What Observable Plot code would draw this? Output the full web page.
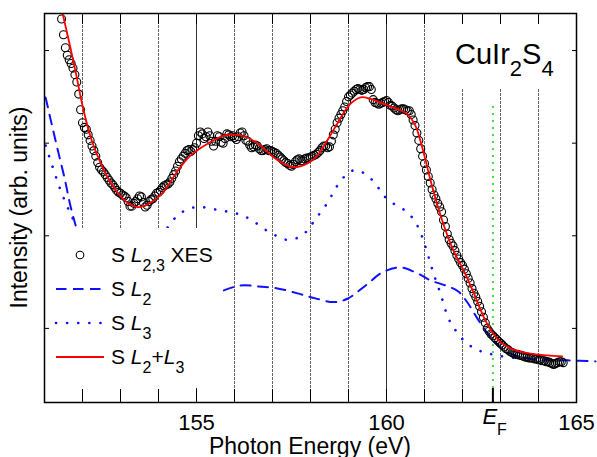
<!DOCTYPE html>
<html><head><meta charset="utf-8">
<script src="https://cdn.jsdelivr.net/npm/d3@7"></script>
<script src="https://cdn.jsdelivr.net/npm/@observablehq/plot@0.6"></script>
<style>
body{margin:0;background:#fff}
svg text{font-family:"Liberation Sans",Arial,Helvetica,sans-serif}
</style>
</head><body><div id="chart"></div>
<script>
// ---- data (photon energy in eV, intensity in arb. units) ----
const xesE = [
151.45,151.50,151.55,151.60,151.65,151.70,151.75,151.80,151.85,151.90,
151.95,152.00,152.05,152.10,152.15,152.20,152.25,152.30,152.35,152.40,
152.45,152.50,152.55,152.60,152.65,152.70,152.75,152.80,152.85,152.90,
152.95,153.00,153.05,153.10,153.15,153.20,153.25,153.30,153.35,153.40,
153.45,153.50,153.55,153.60,153.65,153.70,153.75,153.80,153.85,153.90,
153.95,154.00,154.05,154.10,154.15,154.20,154.25,154.30,154.35,154.40,
154.45,154.50,154.55,154.60,154.65,154.70,154.75,154.80,154.85,154.90,
154.95,155.00,155.05,155.10,155.15,155.20,155.25,155.30,155.35,155.40,
155.45,155.50,155.55,155.60,155.65,155.70,155.75,155.80,155.85,155.90,
155.95,156.00,156.05,156.10,156.15,156.20,156.25,156.30,156.35,156.40,
156.45,156.50,156.55,156.60,156.65,156.70,156.75,156.80,156.85,156.90,
156.95,157.00,157.05,157.10,157.15,157.20,157.25,157.30,157.35,157.40,
157.45,157.50,157.55,157.60,157.65,157.70,157.75,157.80,157.85,157.90,
157.95,158.00,158.05,158.10,158.15,158.20,158.25,158.30,158.35,158.40,
158.45,158.50,158.55,158.60,158.65,158.70,158.75,158.80,158.85,158.90,
158.95,159.00,159.05,159.10,159.15,159.20,159.25,159.30,159.35,159.40,
159.45,159.50,159.55,159.60,159.65,159.70,159.75,159.80,159.85,159.90,
159.95,160.00,160.05,160.10,160.15,160.20,160.25,160.30,160.35,160.40,
160.45,160.50,160.55,160.60,160.65,160.70,160.75,160.80,160.85,160.90,
160.95,161.00,161.05,161.10,161.15,161.20,161.25,161.30,161.35,161.40,
161.45,161.50,161.55,161.60,161.65,161.70,161.75,161.80,161.85,161.90,
161.95,162.00,162.05,162.10,162.15,162.20,162.25,162.30,162.35,162.40,
162.45,162.50,162.55,162.60,162.65,162.70,162.75,162.80,162.85,162.90,
162.95,163.00,163.05,163.10,163.15,163.20,163.25,163.30,163.35,163.40,
163.45,163.50,163.55,163.60,163.65,163.70,163.75,163.80,163.85,163.90,
163.95,164.00,164.05,164.10,164.15,164.20,164.25,164.30,164.35,164.40,
164.45,164.50,164.55,164.60,164.65];
const xesI = [
4.34,4.17,4.03,3.95,3.90,3.86,3.81,3.74,3.66,3.53,
3.36,3.22,3.17,3.15,3.09,3.03,2.97,2.92,2.86,2.79,
2.74,2.71,2.69,2.66,2.63,2.60,2.57,2.55,2.52,2.49,
2.47,2.46,2.44,2.43,2.41,2.37,2.32,2.32,2.35,2.37,
2.40,2.43,2.42,2.36,2.31,2.33,2.37,2.39,2.40,2.43,
2.46,2.47,2.49,2.52,2.54,2.55,2.56,2.58,2.62,2.66,
2.70,2.75,2.80,2.83,2.86,2.89,2.92,2.93,2.91,2.93,
2.95,3.00,3.08,3.12,3.10,3.05,3.07,3.12,3.08,3.02,
2.97,3.02,3.08,3.07,3.01,3.00,3.05,3.10,3.09,3.07,
3.08,3.06,3.04,3.07,3.11,3.12,3.08,3.03,3.02,2.98,
2.95,2.96,2.98,2.97,2.94,2.92,2.92,2.93,2.94,2.92,
2.92,2.91,2.90,2.89,2.87,2.85,2.83,2.81,2.79,2.78,
2.76,2.75,2.77,2.80,2.82,2.83,2.81,2.81,2.83,2.84,
2.84,2.85,2.86,2.87,2.88,2.90,2.92,2.95,2.97,2.97,
2.95,2.96,3.02,3.09,3.15,3.22,3.27,3.31,3.35,3.39,
3.45,3.50,3.52,3.54,3.56,3.58,3.59,3.58,3.57,3.58,
3.60,3.61,3.61,3.58,3.47,3.44,3.43,3.42,3.43,3.44,
3.45,3.46,3.44,3.41,3.40,3.38,3.36,3.35,3.36,3.37,
3.37,3.36,3.35,3.35,3.31,3.25,3.19,3.11,3.03,2.94,
2.86,2.78,2.71,2.64,2.57,2.50,2.44,2.40,2.35,2.31,
2.26,2.17,2.10,2.02,1.96,1.92,1.89,1.84,1.79,1.75,
1.71,1.68,1.64,1.59,1.54,1.49,1.43,1.38,1.34,1.29,
1.24,1.18,1.12,1.06,1.00,0.97,0.94,0.92,0.90,0.88,
0.86,0.84,0.82,0.80,0.78,0.77,0.75,0.74,0.73,0.72,
0.72,0.71,0.71,0.70,0.69,0.69,0.68,0.68,0.68,0.67,
0.67,0.66,0.66,0.65,0.65,0.64,0.64,0.63,0.62,0.61,
0.62,0.63,0.64,0.64,0.63];

const fitE = [151.48,151.66,151.83,152.01,152.23,152.45,152.76,153.11,153.46,153.81,
154.16,154.51,154.84,155.28,155.72,155.98,156.33,156.68,157.03,157.39,
157.61,157.91,158.18,158.44,158.70,159.03,159.32,159.58,159.93,160.28,
160.54,160.76,160.89,161.03,161.16,161.33,161.51,161.75,162.03,162.29,
162.56,162.78,163.00,163.35,163.79,164.23,164.62];
const fitI = [4.395,4.071,3.748,3.387,3.046,2.812,2.561,2.381,2.309,2.362,
2.489,2.704,2.866,2.992,3.082,3.093,3.064,2.974,2.848,2.758,
2.740,2.777,2.866,3.028,3.208,3.416,3.495,3.478,3.424,3.370,
3.316,3.190,3.028,2.812,2.597,2.345,2.111,1.852,1.626,1.388,
1.122,0.960,0.852,0.770,0.727,0.709,0.698];

// S L2 (null = hidden behind legend)
const l2E = [151.03,151.18,151.34,151.53,151.68,151.82,null,
155.72,156.16,156.63,157.13,157.66,158.13,158.61,158.97,159.42,159.89,
160.37,160.82,161.16,161.55,161.89,162.13,162.39,162.66,162.92,163.18,
163.61,164.13,164.76,165.50];
const l2I = [3.492,3.222,2.942,2.618,2.327,2.111,null,
1.410,1.464,1.453,1.432,1.378,1.324,1.284,1.320,1.453,1.604,
1.658,1.593,1.518,1.464,1.399,1.280,1.108,0.946,0.817,0.741,
0.687,0.655,0.655,0.644];

// S L3
const l3E = [151.03,151.21,151.37,151.53,151.68,151.82,null,
154.24,154.50,154.79,155.08,155.37,155.63,155.95,156.21,156.47,156.76,
157.08,157.37,157.66,157.92,158.13,158.34,158.53,158.71,158.92,159.18,
159.50,159.76,159.97,160.26,160.55,160.76,160.89,161.00,161.11,161.24,
161.42,161.63,161.82,162.03,162.29,162.55,162.84,163.18,163.66,164.18,164.71];
const l3I = [2.974,2.748,2.553,2.381,2.241,2.122,null,
2.090,2.219,2.291,2.311,2.294,2.273,2.251,2.218,2.165,2.079,
2.003,1.957,1.978,2.057,2.183,2.291,2.416,2.543,2.650,2.710,
2.650,2.532,2.416,2.327,2.255,2.147,2.039,1.914,1.769,1.590,
1.378,1.108,0.978,0.871,0.790,0.744,0.714,0.690,0.676,0.666,0.660];

const gridMinor = [152,153,154,156,157,158,159,161,162,163,164];
const gridMajor = [155,160];
const tickAll = [152,153,154,155,156,157,158,159,160,161,162,163,164];
const tickLabels = [155,160,165];
const yTicks = [1,2,3,4];
const EF = 162.8;
const efTop = 3.4;

const xTitle = "Photon Energy (eV)";
const yTitle = "Intensity (arb. units)";

const FONT = '"Liberation Sans",Arial,Helvetica,sans-serif';
const BLUE = "#1010ff";
const DASH = "10,7.5";

function richText(g, x, y, parts, size, subSize, subShift, anchor) {
  const t = g.append("text").attr("x", x).attr("y", y)
    .attr("font-size", size).attr("fill", "black")
    .attr("font-family", FONT).attr("text-anchor", anchor || "start");
  let shifted = 0;
  for (const p of parts) {
    const s = t.append("tspan").text(p.t);
    if (p.i) s.attr("font-style", "italic");
    if (p.sub) {
      s.attr("font-size", subSize);
      if (!shifted) { s.attr("dy", subShift); shifted = 1; }
    } else if (shifted) { s.attr("dy", -subShift); shifted = 0; }
  }
  return t;
}

const legendRows = [
  {kind: "dot", parts: [{t:"S "},{t:"L",i:true},{t:"2,3",sub:true},{t:" XES"}]},
  {kind: "dash", parts: [{t:"S "},{t:"L",i:true},{t:"2",sub:true}]},
  {kind: "dot3", parts: [{t:"S "},{t:"L",i:true},{t:"3",sub:true}]},
  {kind: "red", parts: [{t:"S "},{t:"L",i:true},{t:"2",sub:true},{t:"+"},{t:"L",i:true},{t:"3",sub:true}]}
];

function overlay(index, scales, values, dims) {
  const g = d3.create("svg:g");
  const ml = dims.marginLeft;
  g.append("rect").attr("x", ml + 1).attr("y", 228).attr("width", 176).attr("height", 160).attr("fill", "white");
  g.append("rect").attr("x", 440).attr("y", 23).attr("width", 126).attr("height", 65).attr("fill", "white");
  const rowY = [262, 296, 330, 364];
  legendRows.forEach((r, i) => {
    const yb = rowY[i], ys = yb - 7;
    if (r.kind === "dot") {
      g.append("circle").attr("cx", 80).attr("cy", ys).attr("r", 3.8)
        .attr("fill", "none").attr("stroke", "black").attr("stroke-width", 1.1);
    } else {
      const ln = g.append("line").attr("x1", 56).attr("x2", 104).attr("y1", ys).attr("y2", ys);
      if (r.kind === "dash") ln.attr("stroke", BLUE).attr("stroke-width", 2).attr("stroke-dasharray", "10.5,6.5");
      if (r.kind === "dot3") ln.attr("stroke", BLUE).attr("stroke-width", 2.6).attr("stroke-linecap", "round").attr("stroke-dasharray", "0.1,11");
      if (r.kind === "red") ln.attr("stroke", "#ff0000").attr("stroke-width", 1.8);
    }
    richText(g, 111, yb, r.parts, 21, 16, 9);
  });
  richText(g, 455, 64, [{t:"CuIr"},{t:"2",sub:true},{t:"S"},{t:"4",sub:true}], 29, 22, 12);
  return g.node();
}

function labels(index, scales, values, dims) {
  const g = d3.create("svg:g");
  const ml = dims.marginLeft, mr = dims.marginRight, mt = dims.marginTop, mb = dims.marginBottom;
  const cx = (ml + dims.width - mr) / 2;
  const cy = (mt + dims.height - mb) / 2;
  g.append("text").attr("x", cx).attr("y", 453.5).attr("text-anchor", "middle")
    .attr("font-size", 23).attr("font-family", FONT).text(xTitle);
  g.append("text").attr("transform", `translate(27,${cy}) rotate(-90)`).attr("text-anchor", "middle")
    .attr("font-size", 23).attr("font-family", FONT).text(yTitle);
  const ex = scales.x(EF);
  const t = g.append("text").attr("x", ex - 10).attr("y", 424).attr("text-anchor", "start")
    .attr("font-size", 22).attr("font-family", FONT);
  t.append("tspan").attr("font-style", "italic").text("E");
  t.append("tspan").attr("font-size", 16).attr("dy", 11).text("F");
  return g.node();
}

const plot = Plot.plot({
  width: 597, height: 457,
  marginLeft: 44, marginRight: 21, marginTop: 13, marginBottom: 55,
  style: {fontFamily: FONT, background: "white", overflow: "visible"},
  x: {domain: [151, 165], label: null},
  y: {domain: [0.2, 4.4], label: null},
  marks: [
    Plot.ruleX(gridMinor, {x: d => d, stroke: "#666", strokeWidth: 1, strokeDasharray: "3,1"}),
    Plot.ruleX(gridMajor, {x: d => d, stroke: "#333", strokeWidth: 1}),
    Plot.ruleX([EF], {x: d => d, y1: 0.2, y2: efTop, stroke: "#44dd44", strokeWidth: 2, strokeDasharray: "2,5"}),
    Plot.line(l2E, {x: l2E, y: l2I, stroke: BLUE, strokeWidth: 2, strokeDasharray: DASH, curve: "catmull-rom"}),
    Plot.line(l3E, {x: l3E, y: l3I, stroke: BLUE, strokeWidth: 2.6, strokeLinecap: "round", strokeDasharray: "0.1,11", curve: "catmull-rom"}),
    Plot.dot(xesE, {x: xesE, y: xesI, r: 4, stroke: "black", strokeWidth: 1.1, fill: "none"}),
    Plot.line(fitE, {x: fitE, y: fitI, stroke: "#ff0000", strokeWidth: 1.8, curve: "catmull-rom"}),
    overlay,
    Plot.frame({stroke: "black", strokeWidth: 1.5}),
    Plot.axisX(tickAll, {anchor: "bottom", tickSize: -13, tickFormat: () => "", label: null}),
    Plot.axisX([EF], {anchor: "bottom", tickSize: -14, strokeWidth: 2, tickFormat: () => "", label: null}),
    Plot.axisX(tickAll, {anchor: "top", tickSize: -10, tickFormat: () => "", label: null}),
    Plot.axisY(yTicks, {anchor: "left", tickSize: -5, tickFormat: () => "", label: null}),
    Plot.axisY(yTicks, {anchor: "right", tickSize: -5, tickFormat: () => "", label: null}),
    Plot.text(tickLabels, {x: d => d, frameAnchor: "bottom", dy: 27, lineAnchor: "bottom", fontSize: 22, textAnchor: "middle"}),
    labels
  ]
});
document.getElementById("chart").appendChild(plot);
</script>
</body></html>
